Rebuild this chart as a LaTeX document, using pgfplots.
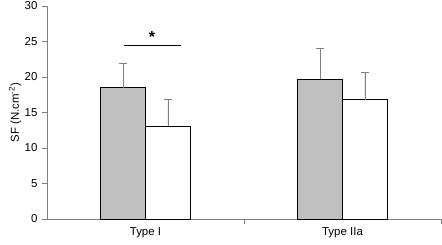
\documentclass[border=0pt]{standalone}
\usepackage{pgfplots}
\pgfplotsset{compat=1.18}
\usepackage{fontspec}
\setmainfont{Liberation Sans}
\definecolor{axgray}{RGB}{128,128,128}
\definecolor{barfill}{RGB}{192,192,192}
\begin{document}
\begin{tikzpicture}
\path[use as bounding box] (-47bp,-26bp) rectangle (395bp,219bp);
\begin{axis}[
  at={(0,0)}, anchor=origin,
  scale only axis, width=394bp, height=213bp,
  xmin=0, xmax=2, ymin=0, ymax=30,
  axis x line*=bottom, axis y line*=left,
  axis line style={axgray, line width=0.8pt},
  every tick/.style={axgray, line width=0.8pt},
  ytick={0,5,...,30},
  tick align=outside, major tick length=5bp,
  xtick={1,2}, xticklabels={},
  extra x ticks={0.5,1.5}, extra x tick labels={Type I, Type IIa},
  extra x tick style={major tick length=0pt, tick label style={yshift=-5bp}},
  font=\fontsize{11.5}{13}\selectfont,
  tick label style={font=\fontsize{11.5}{13}\selectfont},
  yticklabel style={xshift=-1bp},
  /pgf/number format/assume math mode=true,
  ylabel={SF (N.cm\textsuperscript{-2})},
  ylabel style={at={(axis description cs:-0.081,0.5)}, anchor=center},
  ybar, bar width=0.228,
  error bars/y dir=plus, error bars/y explicit,
  error bars/error bar style={axgray, line width=0.8pt},
  error bars/error mark options={rotate=90, axgray, mark size=4bp, line width=0.8pt},
  clip=false,
]
\addplot[draw=black, fill=barfill, line width=0.8pt, bar shift=-0.114] coordinates {(0.5,18.5) +- (0,3.4) (1.5,19.7) +- (0,4.3)};
\addplot[draw=black, fill=white, line width=0.8pt, bar shift=0.114] coordinates {(0.5,13.1) +- (0,3.8) (1.5,16.8) +- (0,3.8)};
\draw[black, line width=0.8pt] (axis cs:0.39,24.5) -- (axis cs:0.68,24.5);
\node[font=\fontsize{16}{16}\selectfont\bfseries] at (axis cs:0.533,25.7) {*};
\end{axis}
\end{tikzpicture}
\end{document}
